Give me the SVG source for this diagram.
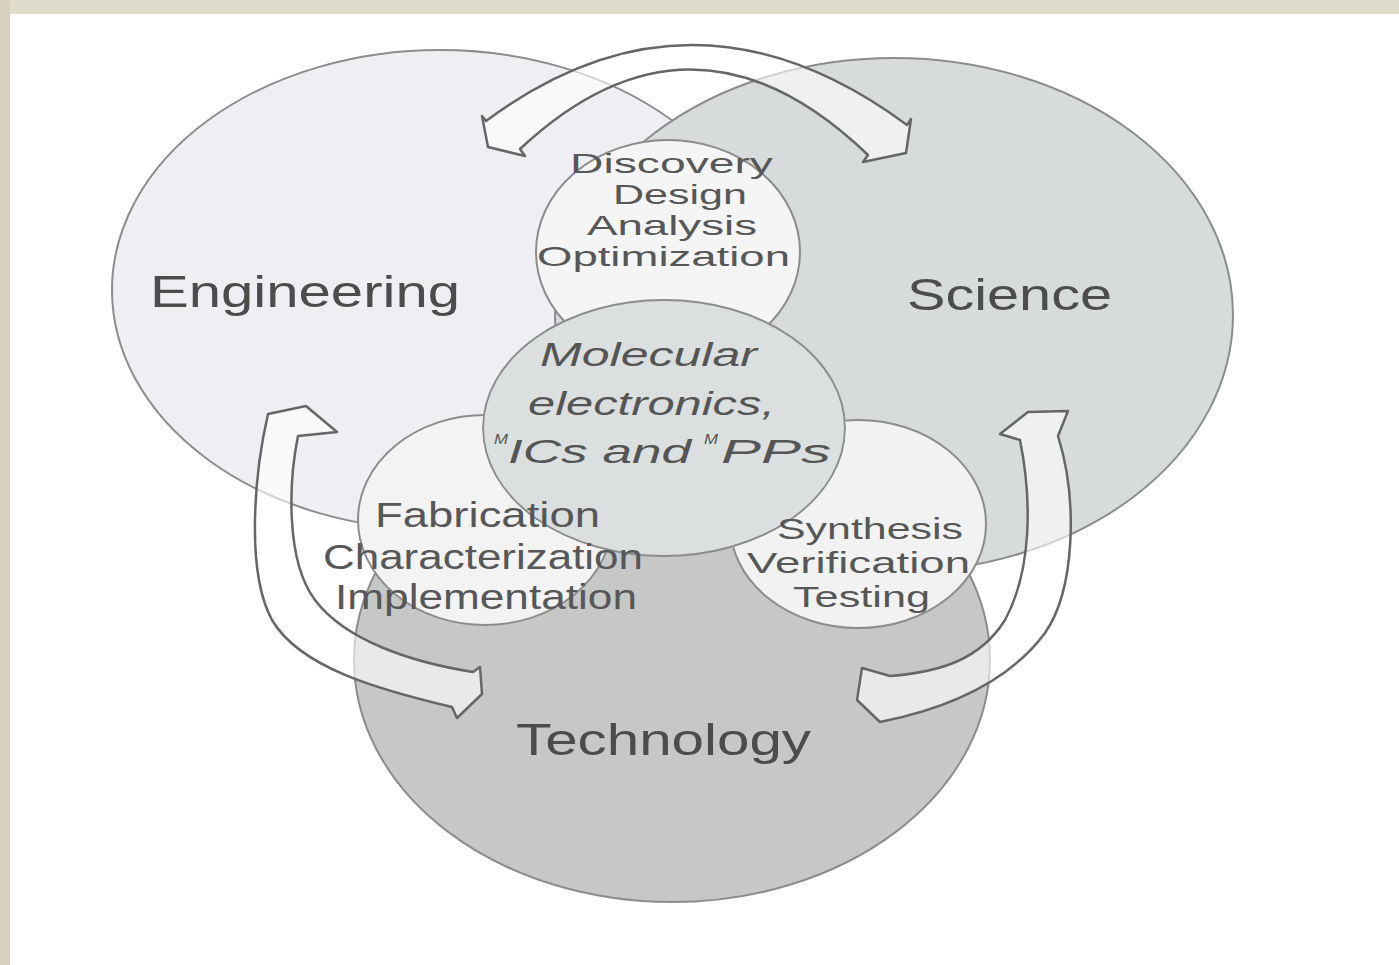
<svg xmlns="http://www.w3.org/2000/svg" width="1399" height="965" viewBox="0 0 1399 965">
  <defs>
    <style>
      .shape { stroke: #8c8c8c; stroke-width: 2; }
      .lbl { font-family: "Liberation Sans", Arial, sans-serif; fill: #4c4c4c; }
      .big { font-size: 44px; }
      .sub { font-size: 35px; fill: #575757; }
      .mid { font-size: 30px; fill: #575757; }
      .tight { font-size: 27.5px; fill: #575757; }
      .mol { font-size: 33px; font-style: italic; fill: #555555; }
      .sup { font-size: 15px; font-style: italic; fill: #555555; }
      .arrow { fill: #ffffff; fill-opacity: 0.6; stroke: #666666; stroke-width: 2.5; stroke-linejoin: round; }
    </style>
    <!-- keeps the lower bubbles from painting over the central bubble -->
    <mask id="outside-molecular" maskUnits="userSpaceOnUse" x="0" y="0" width="1399" height="965">
      <rect width="1399" height="965" fill="#ffffff"/>
      <ellipse cx="664" cy="428" rx="182" ry="129" fill="#000000"/>
    </mask>
  </defs>

  <!-- page and frame -->
  <rect width="1399" height="965" fill="#ffffff"/>
  <rect x="0" y="0" width="1399" height="14" fill="#e0dccc"/>
  <rect x="0" y="0" width="10" height="965" fill="#d6d0be"/>

  <g id="engineering">
    <ellipse class="shape" cx="440" cy="290" rx="328" ry="240" fill="#efeff3" stroke="#9a9a9a"/>
    <text class="lbl big" x="150" y="307" textLength="310" lengthAdjust="spacingAndGlyphs">Engineering</text>
  </g>

  <g id="science">
    <ellipse class="shape" cx="894" cy="315" rx="339" ry="257" fill="#d8dbdb"/>
    <text class="lbl big" x="907" y="310" textLength="205" lengthAdjust="spacingAndGlyphs">Science</text>
  </g>

  <g id="technology">
    <ellipse class="shape" cx="672" cy="660" rx="318" ry="242" fill="#c6c8c8"/>
    <text class="lbl big" x="516" y="755" textLength="295" lengthAdjust="spacingAndGlyphs">Technology</text>
  </g>

  <g id="discovery">
    <ellipse class="shape" cx="668" cy="252" rx="132" ry="112" fill="#f5f5f6"/>
    <text class="lbl tight" x="570" y="173" textLength="203" lengthAdjust="spacingAndGlyphs">Discovery</text>
    <text class="lbl tight" x="613" y="204" textLength="134" lengthAdjust="spacingAndGlyphs">Design</text>
    <text class="lbl tight" x="587" y="235" textLength="170" lengthAdjust="spacingAndGlyphs">Analysis</text>
    <text class="lbl tight" x="537" y="266" textLength="253" lengthAdjust="spacingAndGlyphs">Optimization</text>
  </g>

  <g id="molecular">
    <ellipse class="shape" cx="664" cy="428" rx="181" ry="128" fill="#dcdfdf"/>
    <text class="lbl mol" x="540" y="366" textLength="217" lengthAdjust="spacingAndGlyphs">Molecular</text>
    <text class="lbl mol" x="528" y="415" textLength="247" lengthAdjust="spacingAndGlyphs">electronics,</text>
    <text class="lbl sup" x="494" y="444" textLength="14" lengthAdjust="spacingAndGlyphs">M</text>
    <text class="lbl mol" x="508" y="463" textLength="183" lengthAdjust="spacingAndGlyphs">ICs and</text>
    <text class="lbl sup" x="704" y="444" textLength="14" lengthAdjust="spacingAndGlyphs">M</text>
    <text class="lbl mol" x="721" y="463" textLength="110" lengthAdjust="spacingAndGlyphs">PPs</text>
  </g>

  <g id="fabrication">
    <ellipse class="shape" cx="485" cy="520" rx="127" ry="105" fill="#f3f3f3" mask="url(#outside-molecular)"/>
    <text class="lbl sub" x="375" y="527" textLength="225" lengthAdjust="spacingAndGlyphs">Fabrication</text>
    <text class="lbl sub" x="323" y="569" textLength="320" lengthAdjust="spacingAndGlyphs">Characterization</text>
    <text class="lbl sub" x="335" y="609" textLength="302" lengthAdjust="spacingAndGlyphs">Implementation</text>
  </g>

  <g id="synthesis">
    <ellipse class="shape" cx="858" cy="524" rx="128" ry="104" fill="#f2f2f2" mask="url(#outside-molecular)"/>
    <text class="lbl mid" x="777" y="539" textLength="186" lengthAdjust="spacingAndGlyphs">Synthesis</text>
    <text class="lbl mid" x="747" y="573" textLength="223" lengthAdjust="spacingAndGlyphs">Verification</text>
    <text class="lbl mid" x="793" y="607" textLength="137" lengthAdjust="spacingAndGlyphs">Testing</text>
  </g>

  <!-- curved double-headed block arrows -->
  <g id="connectors">
    <path id="arrow-engineering-science" class="arrow"
          d="M486,121 Q693,-33 907,125 L911,119 L906,153 L863,162 L868,155 Q693,-13 520,149 L525,156 L488,147 L482,116 Z"/>
    <path id="arrow-engineering-technology" class="arrow"
          d="M298,436 C289,480 285,560 315,600 C345,640 410,662 473,672 L480,667 L482,694 L457,718 L452,707 C380,690 300,668 272,620 C245,570 255,470 268,414 L306,406 L337,432 Z"/>
    <path id="arrow-science-technology" class="arrow"
          d="M1020,440 C1032,500 1032,570 1005,620 C980,660 940,672 890,676 L862,668 L857,700 L880,722 C950,708 1010,680 1045,633 C1075,590 1078,500 1058,436 L1068,411 L1028,412 L1000,434 Z"/>
  </g>
</svg>
